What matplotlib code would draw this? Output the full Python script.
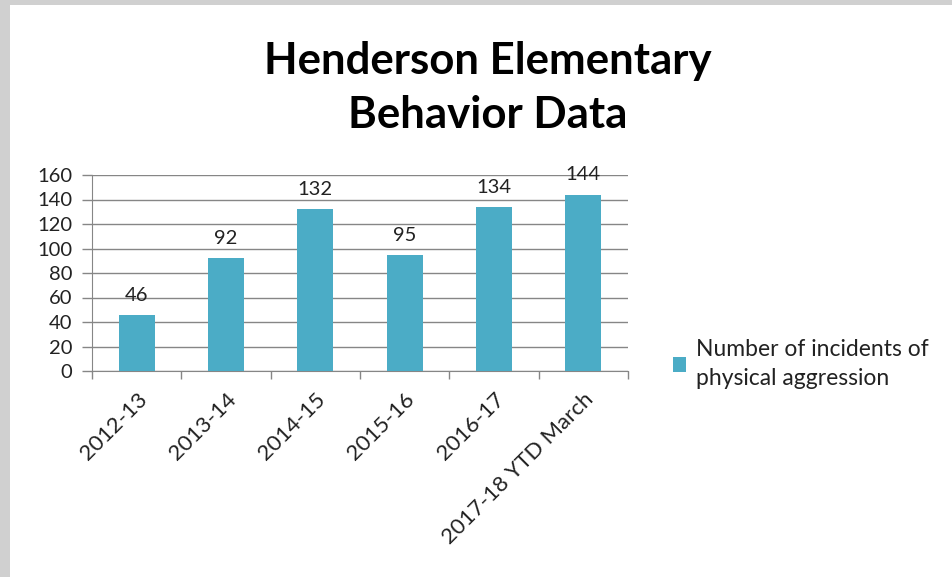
import numpy as np
import matplotlib
matplotlib.use("Agg")
import matplotlib.pyplot as plt
from matplotlib.patches import Rectangle

# data
seasons = ["2012-13", "2013-14", "2014-15", "2015-16", "2016-17", "2017-18 YTD March"]
incidents = [46, 92, 132, 95, 134, 144]
series_name = "Number of incidents of\nphysical aggression"
yticks = [0, 20, 40, 60, 80, 100, 120, 140, 160]

BAR_COLOR = "#4BACC6"
GRID_COLOR = "#868686"
W, H = 952, 577

plt.rcParams["font.family"] = ["Lato", "DejaVu Sans"]

fig = plt.figure(figsize=(W / 100, H / 100), dpi=100)
fig.patch.set_facecolor("#d0d0d0")
# white chart area inside the grey screenshot frame
fig.add_artist(Rectangle((10 / W, 0), 1, 1 - 5 / H, transform=fig.transFigure,
                         facecolor="white", edgecolor="none", zorder=0))


def px(x0, y0, x1, y1):
    """pixel box (top-left origin) -> figure fraction rect"""
    return [x0 / W, 1 - y1 / H, (x1 - x0) / W, (y1 - y0) / H]


ax = fig.add_axes(px(92, 175, 628, 371))
ax.set_facecolor("none")
x = np.arange(len(seasons))
bars = ax.bar(x, incidents, width=0.4, color=BAR_COLOR, zorder=3,
              label=series_name)

for xi, v in zip(x, incidents):
    ax.annotate(str(v), (xi, v), xytext=(0, 8), textcoords="offset points",
                ha="center", va="bottom", fontsize=14.5, color="#222222")

ax.set_xlim(-0.5, len(seasons) - 0.5)
ax.set_ylim(0, 160)
ax.set_yticks(yticks)
ax.yaxis.grid(True, color=GRID_COLOR, lw=1.0, zorder=0)
ax.tick_params(axis="y", length=7, width=1, color=GRID_COLOR, pad=7,
               labelsize=14.5, labelcolor="#222222")

# tick marks at category boundaries, labels at centres
ax.set_xticks(np.arange(-0.5, len(seasons)), labels=[""] * (len(seasons) + 1))
ax.set_xticks(x, labels=seasons, minor=True)
ax.tick_params(axis="x", which="major", length=6, width=1, color=GRID_COLOR)
ax.tick_params(axis="x", which="minor", length=0, pad=13, labelsize=16,
               labelcolor="#222222")
for lab in ax.get_xticklabels(minor=True):
    lab.set_rotation(45)
    lab.set_ha("right")
    lab.set_rotation_mode("anchor")

for s in ("top", "right"):
    ax.spines[s].set_visible(False)
for s in ("left", "bottom"):
    ax.spines[s].set_color(GRID_COLOR)

fig.text(488 / W, 1 - 88 / H, "Henderson Elementary\nBehavior Data",
         ha="center", va="center", fontsize=31.5, fontweight="bold",
         linespacing=1.45, color="black")

fig.legend(handles=[bars], labels=[series_name],
           loc="center left", bbox_to_anchor=(652 / W, 1 - 364 / H),
           frameon=False, fontsize=16.5, handlelength=0.6, handleheight=0.6,
           handletextpad=0.4, labelspacing=0.3, labelcolor="#222222")
for t in fig.legends[0].get_texts():
    t.set_linespacing(1.5)

fig.savefig("out.png", dpi=100, facecolor=fig.get_facecolor())
